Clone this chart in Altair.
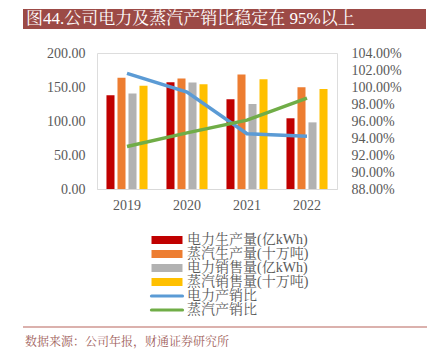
import altair as alt
import pandas as pd

years = ["2019", "2020", "2021", "2022"]
power_prod = [138, 157, 132, 104]
steam_prod = [163.5, 162.5, 168.5, 149.5]
power_sales = [140.5, 156.5, 125, 98]
steam_sales = [152, 154, 161.5, 147]
power_ratio = [1.016, 0.994, 0.945, 0.942]
steam_ratio = [0.930, 0.946, 0.961, 0.987]

bar_series = ["电力生产量(亿kWh)", "蒸汽生产量(十万吨)", "电力销售量(亿kWh)", "蒸汽销售量(十万吨)"]
bar_colors = ["#C00000", "#ED7D31", "#B2B2B2", "#FFC000"]
line_series = ["电力产销比", "蒸汽产销比"]
line_colors = ["#5B9BD5", "#70AD47"]
title_text = "图44.公司电力及蒸汽产销比稳定在 95%以上"
source_text = "数据来源：公司年报，财通证券研究所"

FONT = "Liberation Serif, Noto Serif CJK SC, Noto Sans CJK SC"
LABEL = "#595959"

bar_rows = []
for name, vals in zip(bar_series, [power_prod, steam_prod, power_sales, steam_sales]):
    for y, v in zip(years, vals):
        bar_rows.append({"year": y, "series": name, "value": v})
bar_df = pd.DataFrame(bar_rows)

line_rows = []
for name, vals in zip(line_series, [power_ratio, steam_ratio]):
    for y, v in zip(years, vals):
        line_rows.append({"year": y, "series": name, "ratio": v})
line_df = pd.DataFrame(line_rows)

all_series = bar_series + line_series
all_colors = bar_colors + line_colors
leg_df = pd.DataFrame({"series": all_series,
                       "kind": ["bar"] * len(bar_series) + ["line"] * len(line_series)})

x_enc = alt.X("year:N", sort=years, title=None,
              scale=alt.Scale(paddingInner=0, paddingOuter=0),
              axis=alt.Axis(labelAngle=0, ticks=False, domainColor="#D9D9D9",
                            labelFontSize=14, labelColor=LABEL, labelFont=FONT,
                            labelPadding=9))

bars = alt.Chart(bar_df).mark_bar().encode(
    x=x_enc,
    xOffset=alt.XOffset("series:N", sort=bar_series,
                        scale=alt.Scale(domain=bar_series, paddingInner=0.27, paddingOuter=0.86)),
    y=alt.Y("value:Q", title=None,
            scale=alt.Scale(domain=[0, 200], nice=False),
            axis=alt.Axis(values=[0, 50, 100, 150, 200], format=".2f", grid=False,
                          domain=False, ticks=False, labelFontSize=14, labelColor=LABEL,
                          labelFont=FONT, labelPadding=12)),
    fill=alt.Fill("series:N", sort=bar_series,
                  scale=alt.Scale(domain=bar_series, range=bar_colors), legend=None),
)

lines = alt.Chart(line_df).mark_line(strokeWidth=3.5).encode(
    x=alt.X("year:N", sort=years),
    y=alt.Y("ratio:Q", title=None,
            scale=alt.Scale(domain=[0.88, 1.04], nice=False),
            axis=alt.Axis(orient="right", values=[0.88, 0.90, 0.92, 0.94, 0.96, 0.98, 1.00, 1.02, 1.04],
                          format=".2%", grid=False, domain=False, ticks=False,
                          labelFontSize=14, labelColor=LABEL, labelFont=FONT, labelPadding=14)),
    stroke=alt.Stroke("series:N", sort=line_series,
                      scale=alt.Scale(domain=line_series, range=line_colors), legend=None),
)

# legend drawn as marks, rows positioned by a point scale
leg_y = alt.Y("series:N", axis=None, title=None,
              scale=alt.Scale(type="point", domain=all_series, range=[187, 257], padding=0))
leg_color = alt.Color("series:N", scale=alt.Scale(domain=all_series, range=all_colors), legend=None)

leg_bar_sym = alt.Chart(leg_df).transform_filter("datum.kind == 'bar'").mark_rule(
    strokeWidth=8).encode(x=alt.value(54.5), x2=alt.value(85.5), y=leg_y, color=leg_color)
leg_line_sym = alt.Chart(leg_df).transform_filter("datum.kind == 'line'").mark_rule(
    strokeWidth=3.2, strokeCap="round").encode(x=alt.value(54.5), x2=alt.value(85.5), y=leg_y,
                                               color=leg_color)
leg_text = alt.Chart(leg_df).mark_text(align="left", baseline="middle", fontSize=14,
                                       font=FONT, color=LABEL).encode(
    x=alt.value(90), y=leg_y, text="series:N")

one = pd.DataFrame({"t": [title_text], "s": [source_text]})

title_bar = alt.Chart(one).mark_rect(color="#9C4A46").encode(
    x=alt.value(-74), x2=alt.value(329), y=alt.value(-44), y2=alt.value(-24))
title_txt = alt.Chart(one).mark_text(align="left", baseline="middle", color="white",
                                     fontSize=17, font=FONT).encode(
    x=alt.value(-71), y=alt.value(-34), text="t:N")
src_line = alt.Chart(one).mark_rule(color="#B8645C", strokeWidth=1.2).encode(
    x=alt.value(-74), x2=alt.value(330), y=alt.value(274))
src_txt = alt.Chart(one).mark_text(align="left", baseline="middle", color="#A0605A",
                                   fontSize=12, font=FONT).encode(
    x=alt.value(-72), y=alt.value(289), text="s:N")

chart = alt.layer(bars, lines, leg_bar_sym, leg_line_sym, leg_text,
                  title_bar, title_txt, src_line, src_txt).resolve_scale(
    y="independent", fill="independent", stroke="independent"
).properties(
    width=240, height=136,
    autosize=alt.AutoSizeParams(type="none"),
    padding={"left": 97, "top": 53, "right": 90, "bottom": 164},
).configure_view(stroke=None).configure(background="white")

chart.save("out.html", embed_options={"renderer": "svg", "actions": False})
